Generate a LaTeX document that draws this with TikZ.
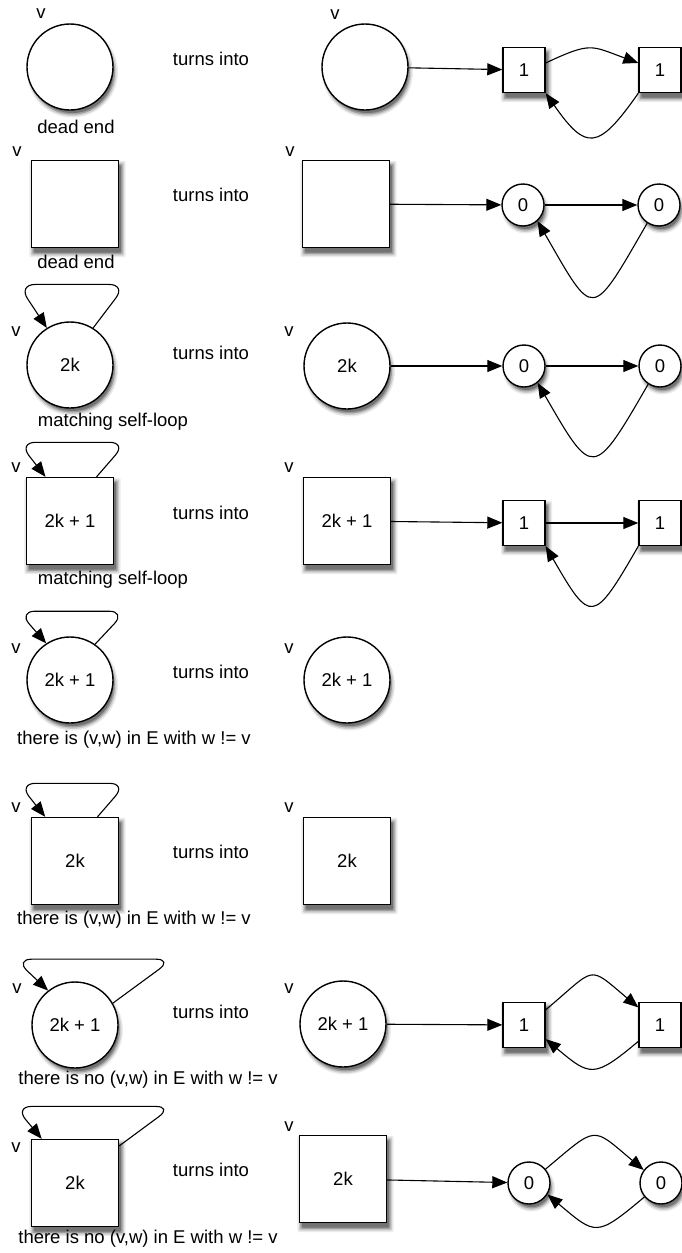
\documentclass[tikz,border=0pt]{standalone}
\usepackage{fontspec}
\setmainfont{Liberation Sans}
\usetikzlibrary{arrows.meta,positioning,backgrounds}

\begin{document}
\begin{tikzpicture}[x=1pt,y=1pt,node distance=136pt,
    font=\fontsize{18.5}{22}\selectfont,
    bigcircle/.style={circle,draw,line width=1.4pt,fill=white,minimum size=86pt,inner sep=0pt},
    bigbox/.style={rectangle,draw,line width=1.4pt,fill=white,minimum size=87pt,inner sep=0pt},
    smallbox/.style={rectangle,draw,line width=1.4pt,fill=white,minimum width=42pt,minimum height=45pt,inner sep=0pt},
    smallcircle/.style={circle,draw,line width=1.4pt,fill=white,minimum size=42pt,inner sep=0pt},
    arr/.style={-{Triangle[length=15pt,width=12pt]},line width=1.1pt}]
  \useasboundingbox (0,0) rectangle (681,-1253);

  % text labels
  \begin{scope}[every node/.style={inner sep=0pt}]
    \node (v1) at (41,-14) {v};
    \node (w1) at (335,-15) {v};
    \node (t1) at (211,-59) {turns into};
    \node (c1) at (76,-127) {dead end};
    \node (v2) at (17,-152) {v};
    \node (w2) at (290,-152) {v};
    \node (t2) at (211,-195) {turns into};
    \node (c2) at (76,-262) {dead end};
    \node (v3) at (16,-332) {v};
    \node (w3) at (289,-332) {v};
    \node (t3) at (211,-353) {turns into};
    \node (c3) at (113,-422) {matching self-loop};
    \node (v4) at (16,-468) {v};
    \node (w4) at (289,-468) {v};
    \node (t4) at (211,-513) {turns into};
    \node (c4) at (113,-580) {matching self-loop};
    \node (v5) at (16,-649) {v};
    \node (w5) at (289,-649) {v};
    \node (t5) at (211,-672) {turns into};
    \node (c5) at (134,-740) {there is (v,w) in E with w != v};
    \node (v6) at (16,-808) {v};
    \node (w6) at (289,-808) {v};
    \node (t6) at (211,-852) {turns into};
    \node (c6) at (134,-920) {there is (v,w) in E with w != v};
    \node (v7) at (17,-989) {v};
    \node (w7) at (289,-989) {v};
    \node (t7) at (211,-1012) {turns into};
    \node (c7) at (148,-1080) {there is no (v,w) in E with w != v};
    \node (v8) at (16,-1148) {v};
    \node (w8) at (289,-1127) {v};
    \node (t8) at (211,-1170) {turns into};
    \node (c8) at (148,-1239) {there is no (v,w) in E with w != v};
  \end{scope}

  % vertices before
  \node[bigcircle] (L1) at (70,-67) {};
  \node[bigbox] (L2) at (75,-204) {};
  \node[bigcircle] (L3) at (70,-365) {2k};
  \node[bigbox] (L4) at (70,-521) {2k + 1};
  \node[bigcircle] (L5) at (70,-680) {2k + 1};
  \node[bigbox] (L6) at (75,-861) {2k};
  \node[bigcircle] (L7) at (75,-1025) {2k + 1};
  \node[bigbox] (L8) at (75,-1183) {2k};

  % vertices after
  \node[bigcircle] (R1) at (365,-67) {};
  \node[bigbox] (R2) at (346,-204) {};
  \node[bigcircle] (R3) at (347,-366) {2k};
  \node[bigbox] (R4) at (347,-521) {2k + 1};
  \node[bigcircle] (R5) at (347,-680) {2k + 1};
  \node[bigbox] (R6) at (347,-861) {2k};
  \node[bigcircle] (R7) at (343,-1024) {2k + 1};
  \node[bigbox] (R8) at (343,-1179) {2k};

  % added gadgets
  \node[smallbox] (a1) at (524,-70) {1};
  \node[smallbox] (b1) [right of=a1] {1};
  \node[smallcircle] (a2) at (523,-205) {0};
  \node[smallcircle] (b2) [right of=a2] {0};
  \node[smallcircle] (a3) at (524,-366) {0};
  \node[smallcircle] (b3) [right of=a3] {0};
  \node[smallbox] (a4) at (524,-523) {1};
  \node[smallbox] (b4) [right of=a4] {1};
  \node[smallbox] (a7) at (524,-1025) {1};
  \node[smallbox] (b7) [right of=a7] {1};
  \node[smallcircle] (a8) at (529,-1183) {0};
  \node[smallcircle] (b8) [right of=a8, node distance=132pt] {0};

  % soft shadows behind the vertices
  \begin{scope}[on background layer]
    \foreach \g/\c in {4/black!8,2.5/black!20,1/black!38,-0.5/black!55} {
      \foreach \n in {L1,L3,L5,L7,R1,R3,R5,R7}
        \fill[\c] ([shift={(2.5,-5)}]\n.center) circle (43+\g-1.5);
      \foreach \n in {a2,b2,a3,b3,a8,b8}
        \fill[\c] ([shift={(2.5,-5)}]\n.center) circle (21+\g-1.5);
      \foreach \n in {L2,L4,L6,L8,R2,R4,R6,R8,a1,b1,a4,b4,a7,b7}
        \fill[\c, rounded corners=2pt] ([shift={(2.5-\g,-5-\g)}]\n.south west) rectangle ([shift={(2.5+\g,-5+\g)}]\n.north east);
    }
  \end{scope}

  % self-loops
  \begin{scope}[arr, rounded corners=17pt]
    \draw (L3.58) -- ++(33,43.5) -- ++(-108,0) -- (L3.122);
    \draw (L4.59) -- ++(30,34.5) -- ++(-108,0) -- (L4.119);
    \draw (L5.55) -- ++(31,33) -- ++(-108,0) -- (L5.123);
    \draw (L6.63) -- ++(29,33.5) -- ++(-108,0) -- (L6.124);
    \draw (L7.30) -- ++(60,44) -- ++(-158,0) -- (L7.128);
    \draw (L8.40) -- ++(53.5,39.5) -- ++(-158,0) -- (L8.127);
  \end{scope}

  % edges
  \begin{scope}[every edge/.style={draw,arr}]
    \path (R1) edge (a1);
    \path (a1.18) edge[out=25,in=160,looseness=1.4] (b1.162);
    \path (b1.south west) edge[out=-125,in=-55,looseness=1.95] (a1.south east);
    \path (R2) edge (a2);
    \path (a2) edge (b2);
    \path (b2.-123) edge[out=-120,in=-60,looseness=2.65] (a2.-48);
    \path (R3) edge (a3);
    \path (a3) edge (b3);
    \path (b3.-123) edge[out=-120,in=-60,looseness=2.55] (a3.-51);
    \path (R4) edge (a4);
    \path (a4) edge (b4);
    \path (b4.south west) edge[out=-120,in=-60,looseness=2.5] (a4.south east);
    \path (R7) edge (a7);
    \path (a7.35) edge[out=40,in=140,looseness=1.85] (b7.141);
    \path (b7.-143) edge[out=-140,in=-40,looseness=1.6] (a7.-33);
    \path (R8) edge (a8);
    \path (a8.40) edge[out=40,in=140,looseness=1.78] (b8.143);
    \path (b8.-140) edge[out=-140,in=-40,looseness=1.67] (a8.-32);
  \end{scope}
\end{tikzpicture}
\end{document}
